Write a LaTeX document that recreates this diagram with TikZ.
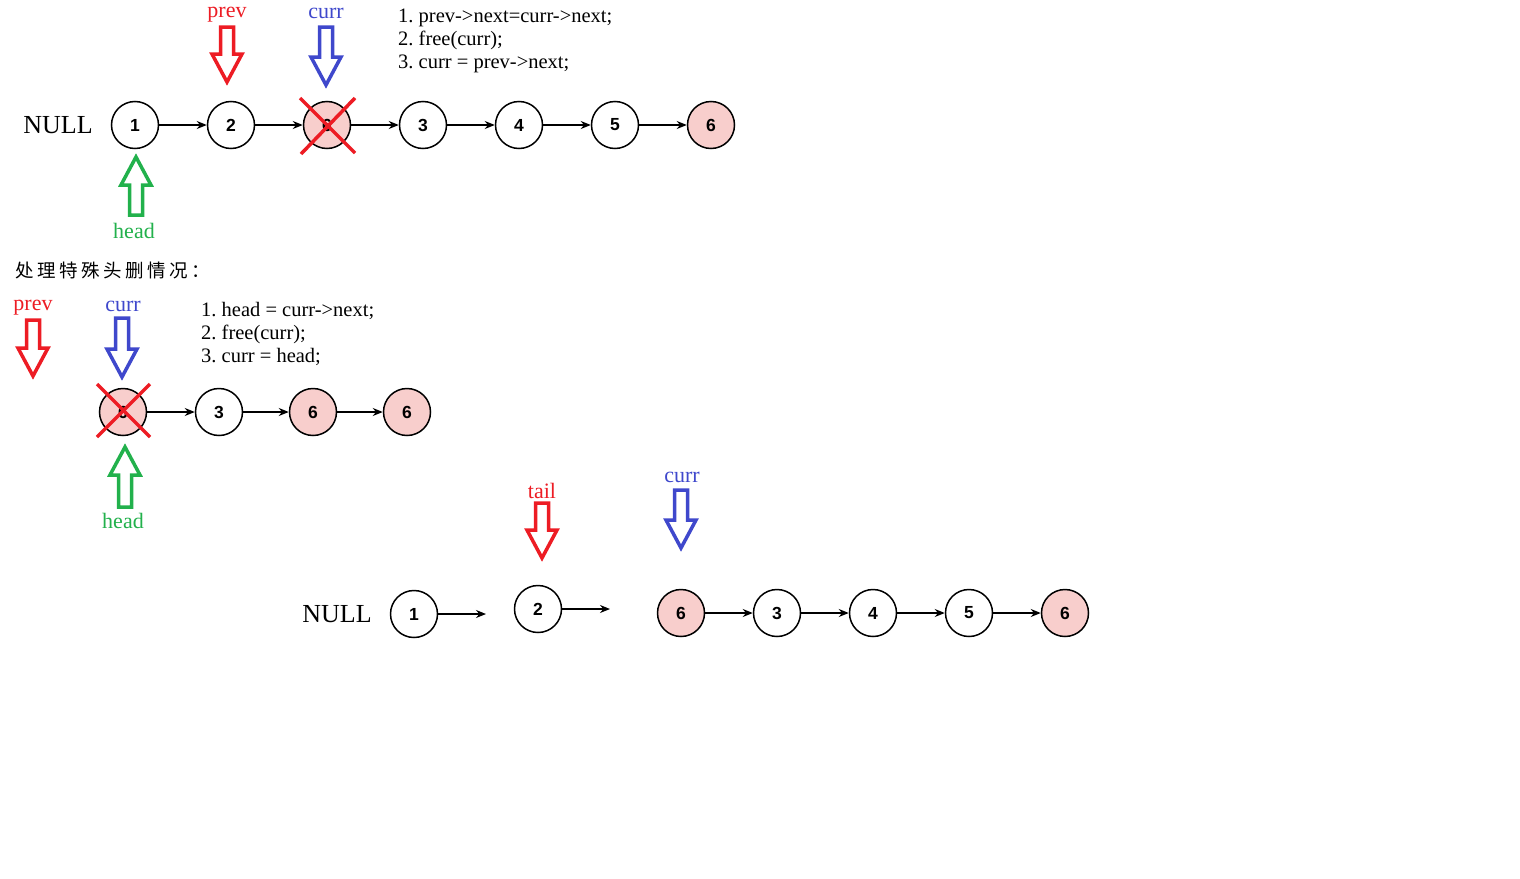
\documentclass[tikz,border=0pt]{standalone}
\usepackage{fontspec}
\setmainfont{Liberation Serif}
\newfontfamily\numfont{Liberation Sans}
\newfontfamily\cjkfont{Noto Sans CJK SC}
\usetikzlibrary{arrows.meta}
\frenchspacing
\definecolor{pred}{HTML}{ED1C24}
\definecolor{pblue}{HTML}{3F48CC}
\definecolor{pgreen}{HTML}{22B14C}
\definecolor{pink}{HTML}{F8CECC}
\tikzset{
  lnode/.style={circle,draw=black,line width=1.5pt,minimum size=47pt,inner sep=0pt,fill=white,
    font=\numfont\bfseries\fontsize{17.5}{17.5}\selectfont},
  hnode/.style={lnode,fill=pink},
  link/.style={line width=1.3pt,-{Stealth[length=10pt,width=8pt]}},
  cross/.style={pred,line width=3.5pt},
  lbl/.style={inner sep=0pt,font=\fontsize{22}{22}\selectfont},
  code/.style={inner sep=0pt,align=left,anchor=west,font=\fontsize{20.5}{23}\selectfont},
  nulltxt/.style={inner sep=0pt,font=\fontsize{26}{26}\selectfont},
  ptr/.style={line width=3.5pt,line join=miter}
}
% down pointer: x, top, tip, colour
\newcommand\ptrdown[4]{\draw[ptr,#4] (#1-6.5,#2) -- (#1+6.5,#2) -- (#1+6.5,#3-28) -- (#1+15,#3-28) -- (#1,#3) -- (#1-15,#3-28) -- (#1-6.5,#3-28) -- cycle;}
% up pointer: x, bottom, tip, colour
\newcommand\ptrup[4]{\draw[ptr,#4] (#1-6.5,#2) -- (#1+6.5,#2) -- (#1+6.5,#3+28) -- (#1+15,#3+28) -- (#1,#3) -- (#1-15,#3+28) -- (#1-6.5,#3+28) -- cycle;}
\newcommand\cg{\hspace{3.5pt}}
\begin{document}
\begin{tikzpicture}[x=1pt,y=-1pt]
\useasboundingbox[fill=white] (0,0) rectangle (1520,878);
% ---------- top row ----------
\node[nulltxt] (null1) at (58,125) {NULL};
\node[lnode] (a1) at (135,125) {1};
\node[lnode] (a2) at (231,125) {2};
\node[hnode] (a3) at (327,125) {6};
\node[lnode] (a4) at (423,125) {3};
\node[lnode] (a5) at (519,125) {4};
\node[lnode] (a6) at (615,125) {5};
\node[hnode] (a7) at (711,125) {6};
\foreach \i/\j in {a1/a2,a2/a3,a3/a4,a4/a5,a5/a6,a6/a7} \draw[link] (\i) -- (\j);
\draw[cross] (300,98) -- (355,153);
\draw[cross] (355,98) -- (301,154);
\node[lbl,pred] (lprev1) at (227,15) {prev};
\node[lbl,pblue] (lcurr1) at (326,13) {curr};
\node[lbl,pgreen] (lhead1) at (134,231) {head};
\ptrdown{227}{27}{82}{pred}
\ptrdown{326}{27}{85}{pblue}
\ptrup{136}{215}{157}{pgreen}
\node[code] (code1) at (398,41) {1. prev->next=curr->next;\\2. free(curr);\\3. curr = prev->next;};
% ---------- second section ----------
\node[inner sep=0pt,anchor=west,font=\cjkfont\fontsize{18.5}{18.5}\selectfont] (title) at (15,271) {处\cg 理\cg 特\cg 殊\cg 头\cg 删\cg 情\cg 况\cg ：};
\node[lbl,pred] (lprev2) at (33,308) {prev};
\node[lbl,pblue] (lcurr2) at (123,306) {curr};
\ptrdown{33}{320}{376}{pred}
\ptrdown{122}{318}{377}{pblue}
\node[code] (code2) at (201,334) {1. head = curr->next;\\2. free(curr);\\3. curr = head;};
\node[hnode] (b1) at (123,412) {6};
\node[lnode] (b2) at (219,412) {3};
\node[hnode] (b3) at (313,412) {6};
\node[hnode] (b4) at (407,412) {6};
\foreach \i/\j in {b1/b2,b2/b3,b3/b4} \draw[link] (\i) -- (\j);
\draw[cross] (97,384) -- (150,437);
\draw[cross] (150,384) -- (97,437);
\ptrup{125}{507}{447}{pgreen}
\node[lbl,pgreen] (lhead2) at (123,521) {head};
% ---------- third section ----------
\node[nulltxt] (null3) at (337,614) {NULL};
\node[lnode] (c1) at (414,614) {1};
\node[lnode] (c2) at (538,609) {2};
\coordinate (e1) at (486,614);
\coordinate (e2) at (610,609);
\draw[link] (c1) -- (e1);
\draw[link] (c2) -- (e2);
\node[hnode] (c3) at (681,613) {6};
\node[lnode] (c4) at (777,613) {3};
\node[lnode] (c5) at (873,613) {4};
\node[lnode] (c6) at (969,613) {5};
\node[hnode] (c7) at (1065,613) {6};
\foreach \i/\j in {c3/c4,c4/c5,c5/c6,c6/c7} \draw[link] (\i) -- (\j);
\node[lbl,pred] (ltail) at (542,491) {tail};
\node[lbl,pblue] (lcurr3) at (682,477) {curr};
\ptrdown{542}{503}{558}{pred}
\ptrdown{681}{490}{548}{pblue}
\end{tikzpicture}
\end{document}
